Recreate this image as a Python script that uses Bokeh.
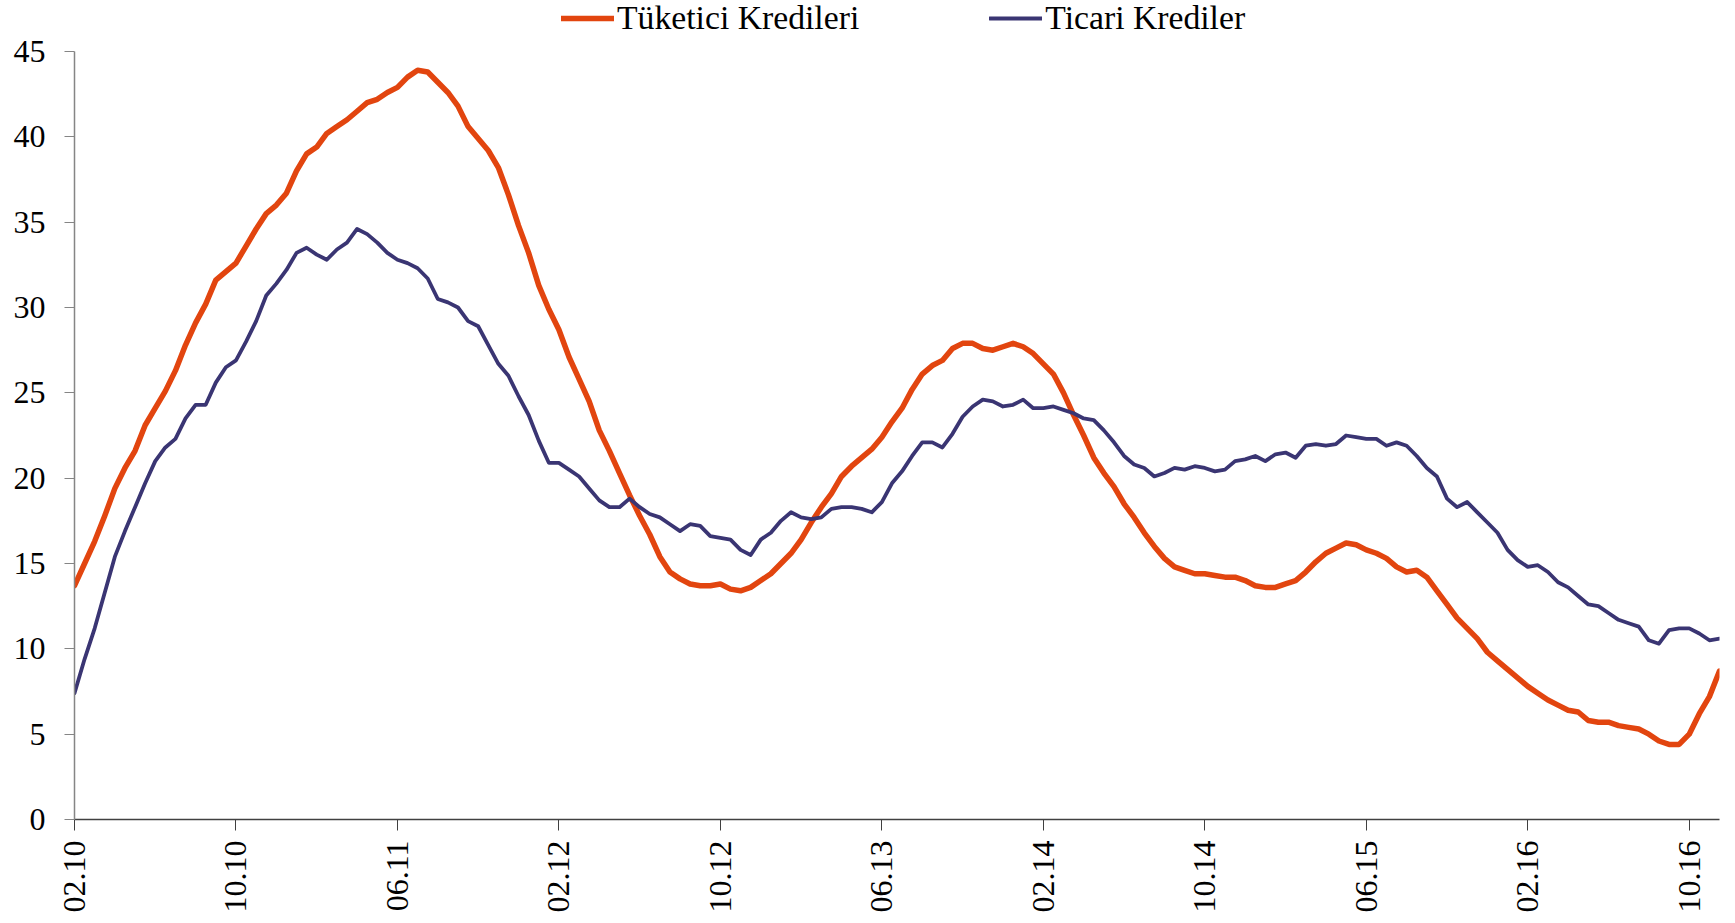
import math
from bokeh.plotting import figure
from bokeh.models import Range1d, FixedTicker, Legend, LegendItem
from bokeh.embed import file_html
from bokeh.resources import INLINE

# x tick positions (months since Feb 2010) and labels
tick_pos = [0, 8, 16, 24, 32, 40, 48, 56, 64, 72, 80]
tick_labels = ["02.10", "10.10", "06.11", "02.12", "10.12", "06.13",
               "02.14", "10.14", "06.15", "02.16", "10.16"]
y_ticks = [0, 5, 10, 15, 20, 25, 30, 35, 40, 45]

# Series (half-monthly readings, %)
tuketici = [
    13.7, 15.0, 16.3, 17.8, 19.4, 20.6, 21.6, 23.1, 24.1, 25.1,
    26.3, 27.8, 29.1, 30.2, 31.6, 32.1, 32.6, 33.6, 34.6, 35.5,
    36.0, 36.7, 38.0, 39.0, 39.4, 40.2, 40.6, 41.0, 41.5, 42.0,
    42.2, 42.6, 42.9, 43.5, 43.9, 43.8, 43.2, 42.6, 41.8, 40.6,
    39.9, 39.2, 38.2, 36.6, 34.8, 33.2, 31.3, 29.9, 28.7, 27.1,
    25.8, 24.5, 22.8, 21.6, 20.3, 19.0, 17.8, 16.7, 15.4, 14.5,
    14.1, 13.8, 13.7, 13.7, 13.8, 13.5, 13.4, 13.6, 14.0, 14.4,
    15.0, 15.6, 16.4, 17.4, 18.3, 19.1, 20.1, 20.7, 21.2, 21.7,
    22.4, 23.3, 24.1, 25.2, 26.1, 26.6, 26.9, 27.6, 27.9, 27.9,
    27.6, 27.5, 27.7, 27.9, 27.7, 27.3, 26.7, 26.1, 25.0, 23.7,
    22.5, 21.2, 20.3, 19.5, 18.5, 17.7, 16.8, 16.0, 15.3, 14.8,
    14.6, 14.4, 14.4, 14.3, 14.2, 14.2, 14.0, 13.7, 13.6, 13.6,
    13.8, 14.0, 14.5, 15.1, 15.6, 15.9, 16.2, 16.1, 15.8, 15.6,
    15.3, 14.8, 14.5, 14.6, 14.2, 13.4, 12.6, 11.8, 11.2, 10.6,
    9.8, 9.3, 8.8, 8.3, 7.8, 7.4, 7.0, 6.7, 6.4, 6.3,
    5.8, 5.7, 5.7, 5.5, 5.4, 5.3, 5.0, 4.6, 4.4, 4.4,
    5.0, 6.2, 7.2, 8.7,
]
ticari = [
    7.4, 9.4, 11.2, 13.3, 15.4, 16.9, 18.3, 19.7, 21.0, 21.8,
    22.3, 23.5, 24.3, 24.3, 25.6, 26.5, 26.9, 28.0, 29.2, 30.7,
    31.4, 32.2, 33.2, 33.5, 33.1, 32.8, 33.4, 33.8, 34.6, 34.3,
    33.8, 33.2, 32.8, 32.6, 32.3, 31.7, 30.5, 30.3, 30.0, 29.2,
    28.9, 27.8, 26.7, 26.0, 24.8, 23.7, 22.2, 20.9, 20.9, 20.5,
    20.1, 19.4, 18.7, 18.3, 18.3, 18.8, 18.3, 17.9, 17.7, 17.3,
    16.9, 17.3, 17.2, 16.6, 16.5, 16.4, 15.8, 15.5, 16.4, 16.8,
    17.5, 18.0, 17.7, 17.6, 17.7, 18.2, 18.3, 18.3, 18.2, 18.0,
    18.6, 19.7, 20.4, 21.3, 22.1, 22.1, 21.8, 22.6, 23.6, 24.2,
    24.6, 24.5, 24.2, 24.3, 24.6, 24.1, 24.1, 24.2, 24.0, 23.8,
    23.5, 23.4, 22.8, 22.1, 21.3, 20.8, 20.6, 20.1, 20.3, 20.6,
    20.5, 20.7, 20.6, 20.4, 20.5, 21.0, 21.1, 21.3, 21.0, 21.4,
    21.5, 21.2, 21.9, 22.0, 21.9, 22.0, 22.5, 22.4, 22.3, 22.3,
    21.9, 22.1, 21.9, 21.3, 20.6, 20.1, 18.8, 18.3, 18.6, 18.0,
    17.4, 16.8, 15.8, 15.2, 14.8, 14.9, 14.5, 13.9, 13.6, 13.1,
    12.6, 12.5, 12.1, 11.7, 11.5, 11.3, 10.5, 10.3, 11.1, 11.2,
    11.2, 10.9, 10.5, 10.6,
]
months = [i * 0.5 for i in range(len(tuketici))]

FONT = "Liberation Serif"
ORANGE = "#E2450F"
NAVY = "#3A3573"

# frame spans full height; the top strip above 45 holds the legend
FRAME_H = 819
Y_TOP = 45 * FRAME_H / 768.0

p = figure(width=1730, height=915, output_backend="svg", toolbar_location=None,
           x_range=Range1d(0, months[-1]), y_range=Range1d(0, Y_TOP),
           min_border_left=74, min_border_right=11, min_border_top=0,
           min_border_bottom=96)
p.outline_line_color = None
p.xgrid.visible = False
p.ygrid.visible = False
p.background_fill_color = "white"
p.border_fill_color = "white"

r1 = p.line(months, tuketici, line_color=ORANGE, line_width=5.5,
            line_join="round", line_cap="round")
r2 = p.line(months, ticari, line_color=NAVY, line_width=3.8,
            line_join="round", line_cap="round")

xa = p.xaxis[0]
xa.ticker = FixedTicker(ticks=tick_pos)
xa.major_label_overrides = {t: l for t, l in zip(tick_pos, tick_labels)}
xa.major_label_orientation = math.pi / 2
xa.major_label_text_font = FONT
xa.major_label_text_font_size = "32px"
xa.major_label_text_color = "black"
xa.major_label_standoff = 10
xa.major_tick_out = 11
xa.major_tick_in = 0
xa.minor_tick_out = 0
xa.minor_tick_in = 0
xa.axis_line_color = "#404040"
xa.major_tick_line_color = "#404040"
xa.axis_line_width = 1.5

ya = p.yaxis[0]
ya.ticker = FixedTicker(ticks=y_ticks)
ya.bounds = (0, 45)
ya.major_label_text_font = FONT
ya.major_label_text_font_size = "32px"
ya.major_label_text_color = "black"
ya.major_label_standoff = 19
ya.major_tick_out = 10
ya.major_tick_in = 0
ya.minor_tick_out = 0
ya.minor_tick_in = 0
ya.axis_line_color = "#858585"
ya.major_tick_line_color = "#858585"
ya.axis_line_width = 1.5

legend = Legend(items=[LegendItem(label="Tüketici Kredileri", renderers=[r1]),
                       LegendItem(label="Ticari Krediler", renderers=[r2])],
                orientation="horizontal", location=(487, 782),
                label_text_font=FONT, label_text_font_size="33.7px",
                label_text_color="black", glyph_width=53, glyph_height=20,
                label_standoff=3, spacing=130, padding=0, margin=0,
                border_line_alpha=0, background_fill_alpha=0)
p.add_layout(legend)

open("out.html", "w").write(file_html(p, INLINE))
